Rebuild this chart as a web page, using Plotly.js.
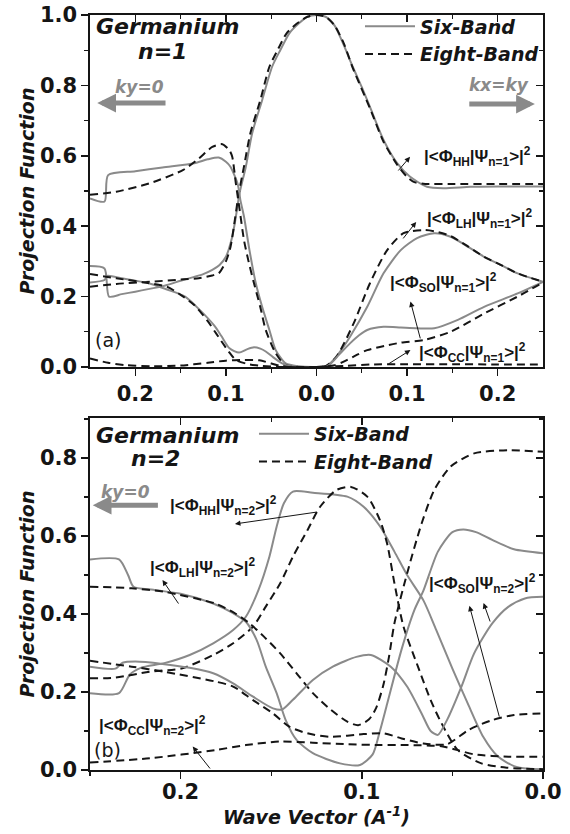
<!DOCTYPE html>
<html><head><meta charset="utf-8">
<script src="https://cdn.plot.ly/plotly-3.0.1.min.js"></script>
<style>html,body{margin:0;padding:0;background:#fff}#chart{width:570px;height:834px}</style>
</head><body><div id="chart"></div>
<script>
// ---------- Panel (a): n=1  (negative k: ky=0 direction, positive k: kx=ky direction) ----------
const a_hh6_k = [-0.25,-0.234,-0.229,-0.215,-0.2,-0.18,-0.165,-0.15,-0.135,-0.125,-0.115,-0.107,-0.1,-0.093,-0.089,-0.085,-0.078,-0.071,-0.06,-0.049,-0.04,-0.03,-0.02,-0.01,0,0.01,0.02,0.03,0.04,0.05,0.059,0.074,0.089,0.103,0.122,0.14,0.17,0.2,0.25];
const a_hh6_v = [0.287,0.28,0.2,0.207,0.214,0.224,0.233,0.245,0.256,0.264,0.276,0.29,0.313,0.37,0.427,0.493,0.569,0.664,0.758,0.853,0.9,0.948,0.975,0.995,1.0,0.995,0.97,0.915,0.853,0.795,0.739,0.645,0.579,0.541,0.512,0.508,0.512,0.513,0.513];
const a_hh8_k = [-0.25,-0.221,-0.184,-0.147,-0.13,-0.115,-0.108,-0.1,-0.095,-0.09,-0.086,-0.08,-0.073,-0.062,-0.052,-0.043,-0.033,-0.022,-0.01,0,0.01,0.02,0.03,0.04,0.059,0.074,0.089,0.1,0.108,0.12,0.15,0.2,0.25];
const a_hh8_v = [0.228,0.236,0.242,0.249,0.252,0.26,0.266,0.3,0.34,0.42,0.49,0.57,0.664,0.758,0.853,0.9,0.948,0.975,0.995,1.0,0.995,0.97,0.92,0.85,0.735,0.64,0.575,0.54,0.525,0.52,0.52,0.52,0.52];
const a_lh6_k = [-0.25,-0.234,-0.23,-0.2,-0.17,-0.135,-0.12,-0.108,-0.1,-0.095,-0.087,-0.084,-0.08,-0.074,-0.067,-0.06,-0.052,-0.045,-0.034,-0.02,0,0.01,0.015,0.025,0.037,0.056,0.074,0.093,0.111,0.13,0.148,0.165,0.185,0.205,0.222,0.25];
const a_lh6_v = [0.479,0.47,0.545,0.556,0.567,0.579,0.59,0.595,0.583,0.569,0.52,0.474,0.427,0.332,0.238,0.171,0.105,0.048,0.01,0.002,0,0.002,0.01,0.04,0.086,0.171,0.266,0.332,0.366,0.38,0.37,0.345,0.313,0.288,0.266,0.242];
const a_lh8_k = [-0.25,-0.221,-0.184,-0.147,-0.13,-0.115,-0.104,-0.096,-0.093,-0.089,-0.085,-0.08,-0.075,-0.069,-0.062,-0.056,-0.045,-0.035,-0.02,0,0.01,0.022,0.041,0.059,0.078,0.096,0.119,0.133,0.148,0.165,0.185,0.205,0.222,0.25];
const a_lh8_v = [0.489,0.498,0.522,0.56,0.592,0.625,0.633,0.615,0.597,0.521,0.45,0.36,0.3,0.238,0.17,0.105,0.039,0.007,0,0,0.002,0.029,0.124,0.238,0.332,0.38,0.389,0.384,0.372,0.346,0.313,0.288,0.266,0.242];
const a_so6_k = [-0.25,-0.234,-0.231,-0.215,-0.2,-0.185,-0.165,-0.145,-0.13,-0.113,-0.105,-0.096,-0.0855,-0.077,-0.069,-0.062,-0.056,-0.048,-0.041,-0.033,-0.02,0,0.01,0.015,0.025,0.037,0.047,0.056,0.074,0.093,0.111,0.13,0.156,0.185,0.222,0.25];
const a_so6_v = [0.24,0.247,0.259,0.252,0.245,0.238,0.22,0.2,0.165,0.118,0.088,0.053,0.041,0.05,0.056,0.052,0.044,0.028,0.015,0.004,0,0,0,0.008,0.035,0.067,0.09,0.105,0.114,0.112,0.11,0.11,0.134,0.171,0.209,0.242];
const a_so8_k = [-0.25,-0.221,-0.19,-0.165,-0.15,-0.135,-0.12,-0.111,-0.097,-0.089,-0.075,-0.06,-0.04,0,0.02,0.03,0.045,0.056,0.075,0.093,0.119,0.148,0.185,0.222,0.25];
const a_so8_v = [0.264,0.252,0.24,0.228,0.205,0.176,0.13,0.096,0.044,0.02,0.008,0.003,0,0,0.005,0.015,0.035,0.048,0.06,0.069,0.077,0.1,0.152,0.2,0.24];
const a_cc8_k = [-0.25,-0.23,-0.21,-0.18,-0.15,-0.12,-0.1,-0.08,-0.063,-0.05,-0.04,-0.03,0,0.03,0.06,0.1,0.15,0.2,0.25];
const a_cc8_v = [0.024,0.012,0.005,0.002,0.004,0.012,0.018,0.02,0.019,0.01,0.003,0,0,0.003,0.007,0.008,0.008,0.007,0.007];
const a_tickvals = [-0.2,-0.1,0,0.1,0.2];
const a_ticktext = ['0.2','0.1','0.0','0.1','0.2'];

// ---------- Panel (b): n=2  (ky=0 direction) ----------
const b_hh6_k = [0.25,0.234,0.228,0.222,0.209,0.195,0.182,0.171,0.164,0.157,0.151,0.147,0.143,0.138,0.127,0.108,0.099,0.09,0.082,0.075,0.066,0.059,0.05,0.041,0.033,0.025,0.016,0.008,0];
const b_hh6_v = [0.197,0.197,0.245,0.262,0.274,0.295,0.325,0.359,0.393,0.462,0.547,0.624,0.684,0.714,0.711,0.701,0.675,0.625,0.56,0.5,0.435,0.36,0.26,0.165,0.085,0.035,0.01,0.003,0.002];
const b_lh6_k = [0.25,0.234,0.229,0.226,0.215,0.2,0.182,0.171,0.164,0.158,0.153,0.147,0.142,0.136,0.127,0.112,0.101,0.094,0.09,0.086,0.078,0.071,0.066,0.058,0.05,0.044,0.037,0.028,0.016,0];
const b_lh6_v = [0.54,0.54,0.5,0.47,0.462,0.452,0.427,0.402,0.38,0.333,0.265,0.197,0.128,0.077,0.043,0.017,0.013,0.04,0.1,0.17,0.31,0.41,0.46,0.56,0.61,0.617,0.61,0.59,0.566,0.556];
const b_so6_k = [0.25,0.236,0.232,0.225,0.21,0.195,0.182,0.171,0.16,0.149,0.144,0.138,0.127,0.116,0.103,0.095,0.084,0.075,0.067,0.062,0.058,0.053,0.045,0.038,0.028,0.019,0.01,0];
const b_so6_v = [0.265,0.26,0.275,0.278,0.272,0.262,0.248,0.222,0.188,0.158,0.155,0.18,0.231,0.265,0.29,0.295,0.265,0.214,0.145,0.1,0.09,0.128,0.214,0.299,0.376,0.419,0.44,0.444];
const b_hh8_k = [0.25,0.236,0.217,0.199,0.182,0.171,0.16,0.153,0.145,0.138,0.13,0.123,0.114,0.106,0.097,0.09,0.086,0.082,0.077,0.069,0.062,0.056,0.047,0.034,0.02,0];
const b_hh8_v = [0.235,0.237,0.252,0.261,0.295,0.325,0.368,0.419,0.479,0.547,0.615,0.675,0.718,0.726,0.701,0.641,0.58,0.479,0.368,0.265,0.179,0.12,0.051,0.017,0.006,0.002];
const b_lh8_k = [0.25,0.227,0.209,0.181,0.17,0.162,0.154,0.145,0.136,0.127,0.117,0.108,0.102,0.096,0.092,0.088,0.085,0.082,0.075,0.067,0.06,0.051,0.038,0.019,0];
const b_lh8_v = [0.47,0.466,0.457,0.427,0.402,0.376,0.342,0.299,0.248,0.197,0.154,0.124,0.115,0.13,0.16,0.22,0.29,0.376,0.504,0.632,0.718,0.778,0.812,0.82,0.816];
const b_so8_k = [0.25,0.227,0.209,0.181,0.171,0.16,0.149,0.14,0.13,0.117,0.099,0.088,0.078,0.066,0.053,0.041,0.028,0.016,0];
const b_so8_v = [0.28,0.265,0.252,0.227,0.214,0.179,0.145,0.111,0.094,0.085,0.092,0.094,0.081,0.068,0.066,0.103,0.128,0.141,0.145];
const b_cc8_k = [0.25,0.217,0.181,0.164,0.145,0.127,0.108,0.09,0.075,0.056,0.047,0.038,0.019,0];
const b_cc8_v = [0.019,0.03,0.051,0.064,0.073,0.07,0.066,0.064,0.064,0.061,0.051,0.04,0.034,0.034];

// ---------- styling ----------
const GRAY = '#8a8a8a', BLACK = '#151515';
const FONT = 'DejaVu Sans, Arial, sans-serif';
function curve(k, v, six, xa, ya, name, show, leg) {
  return {x: k, y: v, xaxis: xa, yaxis: ya, type: 'scatter', mode: 'lines', name: name,
    showlegend: !!show, legend: leg, hoverinfo: 'skip',
    line: {color: six ? GRAY : BLACK, width: 2, dash: six ? 'solid' : '8px,5px', shape: 'spline', smoothing: 0.7}};
}
const traces = [
  curve(a_hh6_k, a_hh6_v, true, 'x', 'y', 'Six-Band', true, 'legend'),
  curve(a_hh8_k, a_hh8_v, false, 'x', 'y', 'Eight-Band', true, 'legend'),
  curve(a_lh6_k, a_lh6_v, true, 'x', 'y', 'Six-Band'),
  curve(a_lh8_k, a_lh8_v, false, 'x', 'y', 'Eight-Band'),
  curve(a_so6_k, a_so6_v, true, 'x', 'y', 'Six-Band'),
  curve(a_so8_k, a_so8_v, false, 'x', 'y', 'Eight-Band'),
  curve(a_cc8_k, a_cc8_v, false, 'x', 'y', 'Eight-Band'),
  curve(b_hh6_k, b_hh6_v, true, 'x2', 'y2', 'Six-Band', true, 'legend2'),
  curve(b_hh8_k, b_hh8_v, false, 'x2', 'y2', 'Eight-Band', true, 'legend2'),
  curve(b_lh6_k, b_lh6_v, true, 'x2', 'y2', 'Six-Band'),
  curve(b_lh8_k, b_lh8_v, false, 'x2', 'y2', 'Eight-Band'),
  curve(b_so6_k, b_so6_v, true, 'x2', 'y2', 'Six-Band'),
  curve(b_so8_k, b_so8_v, false, 'x2', 'y2', 'Eight-Band'),
  curve(b_cc8_k, b_cc8_v, false, 'x2', 'y2', 'Eight-Band'),
  // empty traces to create the mirrored (inside-tick) top/right axes
  {x: [], y: [], xaxis: 'x3', yaxis: 'y3', type: 'scatter', showlegend: false, hoverinfo: 'skip'},
  {x: [], y: [], xaxis: 'x4', yaxis: 'y4', type: 'scatter', showlegend: false, hoverinfo: 'skip'}
];

const tickFont = {family: FONT, size: 21, weight: 'bold', color: BLACK};
const titleFont = {family: FONT, size: 19, weight: 'bold', style: 'italic', color: BLACK};
const base = {showgrid: false, zeroline: false, showline: true, linecolor: BLACK, linewidth: 1.6,
  ticks: 'outside', ticklen: 7, tickwidth: 1.5, tickcolor: BLACK, tickfont: tickFont, mirror: true};
const mir = {showgrid: false, zeroline: false, showline: false, ticks: 'inside', ticklen: 7, tickwidth: 1.5,
  tickcolor: BLACK, showticklabels: false};
const TOP0 = 0.5338, BOT1 = 0.4662;
const aMinor = {tickvals: [-0.15,-0.05,0.05,0.15], ticklen: 4, tickwidth: 1.2, tickcolor: BLACK};

const layout = {
  width: 570, height: 834, margin: {l: 90, r: 27, t: 15, b: 64, autoexpand: false},
  paper_bgcolor: '#fff', plot_bgcolor: '#fff', showlegend: true,
  xaxis: Object.assign({}, base, {domain: [0,1], anchor: 'y', range: [-0.25,0.25], tickmode: 'array',
    tickvals: a_tickvals, ticktext: a_ticktext, minor: Object.assign({ticks: 'outside'}, aMinor)}),
  yaxis: Object.assign({}, base, {domain: [TOP0,1], anchor: 'x', range: [0,1.0], dtick: 0.2, tick0: 0, tickformat: '.1f',
    minor: {dtick: 0.1, ticklen: 4, tickwidth: 1.2, tickcolor: BLACK, ticks: 'outside'},
    title: {text: 'Projection Function', font: titleFont, standoff: 0}}),
  xaxis3: Object.assign({}, mir, {overlaying: 'x', anchor: 'y3', side: 'top', range: [-0.25,0.25], tickmode: 'array',
    tickvals: a_tickvals, minor: Object.assign({ticks: 'inside'}, aMinor)}),
  yaxis3: Object.assign({}, mir, {overlaying: 'y', anchor: 'x3', side: 'right', range: [0,1.0], dtick: 0.2, tick0: 0,
    minor: {dtick: 0.1, ticklen: 4, tickwidth: 1.2, tickcolor: BLACK, ticks: 'inside'}}),
  xaxis2: Object.assign({}, base, {domain: [0,1], anchor: 'y2', range: [0.25,0], dtick: 0.1, tick0: 0, tickformat: '.1f',
    ticklabelstandoff: -5,
    minor: {dtick: 0.05, ticklen: 4, tickwidth: 1.2, tickcolor: BLACK, ticks: 'outside'},
    title: {text: 'Wave Vector (A<sup>-1</sup>)', font: titleFont, standoff: 8}}),
  yaxis2: Object.assign({}, base, {domain: [0,BOT1], anchor: 'x2', range: [0,0.9026], dtick: 0.2, tick0: 0, tickformat: '.1f',
    minor: {dtick: 0.1, ticklen: 4, tickwidth: 1.2, tickcolor: BLACK, ticks: 'outside'},
    title: {text: 'Projection Function', font: titleFont, standoff: 0}}),
  xaxis4: Object.assign({}, mir, {overlaying: 'x2', anchor: 'y4', side: 'top', range: [0.25,0], dtick: 0.1, tick0: 0,
    minor: {dtick: 0.05, ticklen: 4, tickwidth: 1.2, tickcolor: BLACK, ticks: 'inside'}}),
  yaxis4: Object.assign({}, mir, {overlaying: 'y2', anchor: 'x4', side: 'right', range: [0,0.9026], dtick: 0.2, tick0: 0,
    minor: {dtick: 0.1, ticklen: 4, tickwidth: 1.2, tickcolor: BLACK, ticks: 'inside'}}),
  legend: {x: 0.596, y: 1.01, xanchor: 'left', yanchor: 'top', bgcolor: 'rgba(0,0,0,0)', borderwidth: 0,
    font: {family: FONT, size: 19, weight: 'bold', style: 'italic', color: BLACK}, itemwidth: 50, tracegroupgap: 0},
  legend2: {x: 0.362, y: BOT1 + 0.004, xanchor: 'left', yanchor: 'top', bgcolor: 'rgba(0,0,0,0)', borderwidth: 0,
    font: {family: FONT, size: 19, weight: 'bold', style: 'italic', color: BLACK}, itemwidth: 50, tracegroupgap: 0},
  annotations: []
};

const big = {family: FONT, size: 22, weight: 'bold', style: 'italic', color: BLACK};
const kFont = {family: FONT, size: 17, weight: 'bold', style: 'italic', color: GRAY};
const lab = {family: 'Liberation Sans, Arial, sans-serif', size: 17, weight: 'bold', color: BLACK};
const plain = {family: FONT, size: 19, color: BLACK};
function txt(xr, yr, x, y, t, f) { return {xref: xr, yref: yr, x: x, y: y, text: t, font: f, showarrow: false}; }
function arr(xr, yr, x, y, ax, ay, col, w) {
  return {xref: xr, yref: yr, axref: xr, ayref: yr, x: x, y: y, ax: ax, ay: ay, text: '', showarrow: true,
    arrowcolor: col, arrowwidth: w, arrowhead: 2, arrowsize: w > 2 ? 0.75 : 1.1, standoff: 0, startstandoff: 0};
}
function phi(s, n) { return '|&lt;Φ<sub>' + s + '</sub>|Ψ<sub>n=' + n + '</sub>&gt;|<sup>2</sup>'; }
layout.annotations.push(
  txt('x','y', -0.164, 0.966, 'Germanium', big),
  txt('x','y', -0.17, 0.895, 'n=1', big),
  txt('x','y', -0.1956, 0.795, 'ky=0', kFont),
  arr('x','y', -0.242, 0.75, -0.165, 0.75, GRAY, 5),
  txt('x','y', 0.201, 0.801, 'kx=ky', kFont),
  arr('x','y', 0.241, 0.747, 0.167, 0.747, GRAY, 5),
  txt('x','y', 0.178, 0.597, phi('HH', 1), lab),
  arr('x','y', 0.1033, 0.597, 0.0889, 0.554, BLACK, 1),
  txt('x','y', 0.181, 0.423, phi('LH', 1), lab),
  arr('x','y', 0.11, 0.412, 0.0944, 0.361, BLACK, 1),
  txt('x','y', 0.14, 0.239, phi('SO', 1), lab),
  arr('x','y', 0.1037, 0.186, 0.115, 0.077, BLACK, 1),
  txt('x','y', 0.172, 0.04, phi('CC', 1), lab),
  arr('x','y', 0.1037, 0.048, 0.0778, 0.006, BLACK, 1),
  txt('x','y', -0.23, 0.077, '(a)', plain),

  txt('x2','y2', 0.2072, 0.859, 'Germanium', big),
  txt('x2','y2', 0.2139, 0.8, 'n=2', big),
  txt('x2','y2', 0.2306, 0.713, 'ky=0', kFont),
  arr('x2','y2', 0.2485, 0.679, 0.2117, 0.679, GRAY, 5),
  txt('x2','y2', 0.1761, 0.679, phi('HH', 2), lab),
  arr('x2','y2', 0.17, 0.631, 0.124, 0.662, BLACK, 1),
  txt('x2','y2', 0.1878, 0.518, phi('LH', 2), lab),
  arr('x2','y2', 0.21, 0.487, 0.2006, 0.423, BLACK, 1),
  txt('x2','y2', 0.0333, 0.479, phi('SO', 2), lab),
  arr('x2','y2', 0.0406, 0.421, 0.0239, 0.133, BLACK, 1),
  arr('x2','y2', 0.0328, 0.428, 0.0289, 0.377, BLACK, 1),
  txt('x2','y2', 0.2156, 0.115, phi('CC', 2), lab),
  arr('x2','y2', 0.1933, 0.06, 0.1831, 0.0, BLACK, 1),
  txt('x2','y2', 0.2406, 0.051, '(b)', plain)
);

Plotly.newPlot('chart', traces, layout, {staticPlot: true, displayModeBar: false});
</script></body></html>
